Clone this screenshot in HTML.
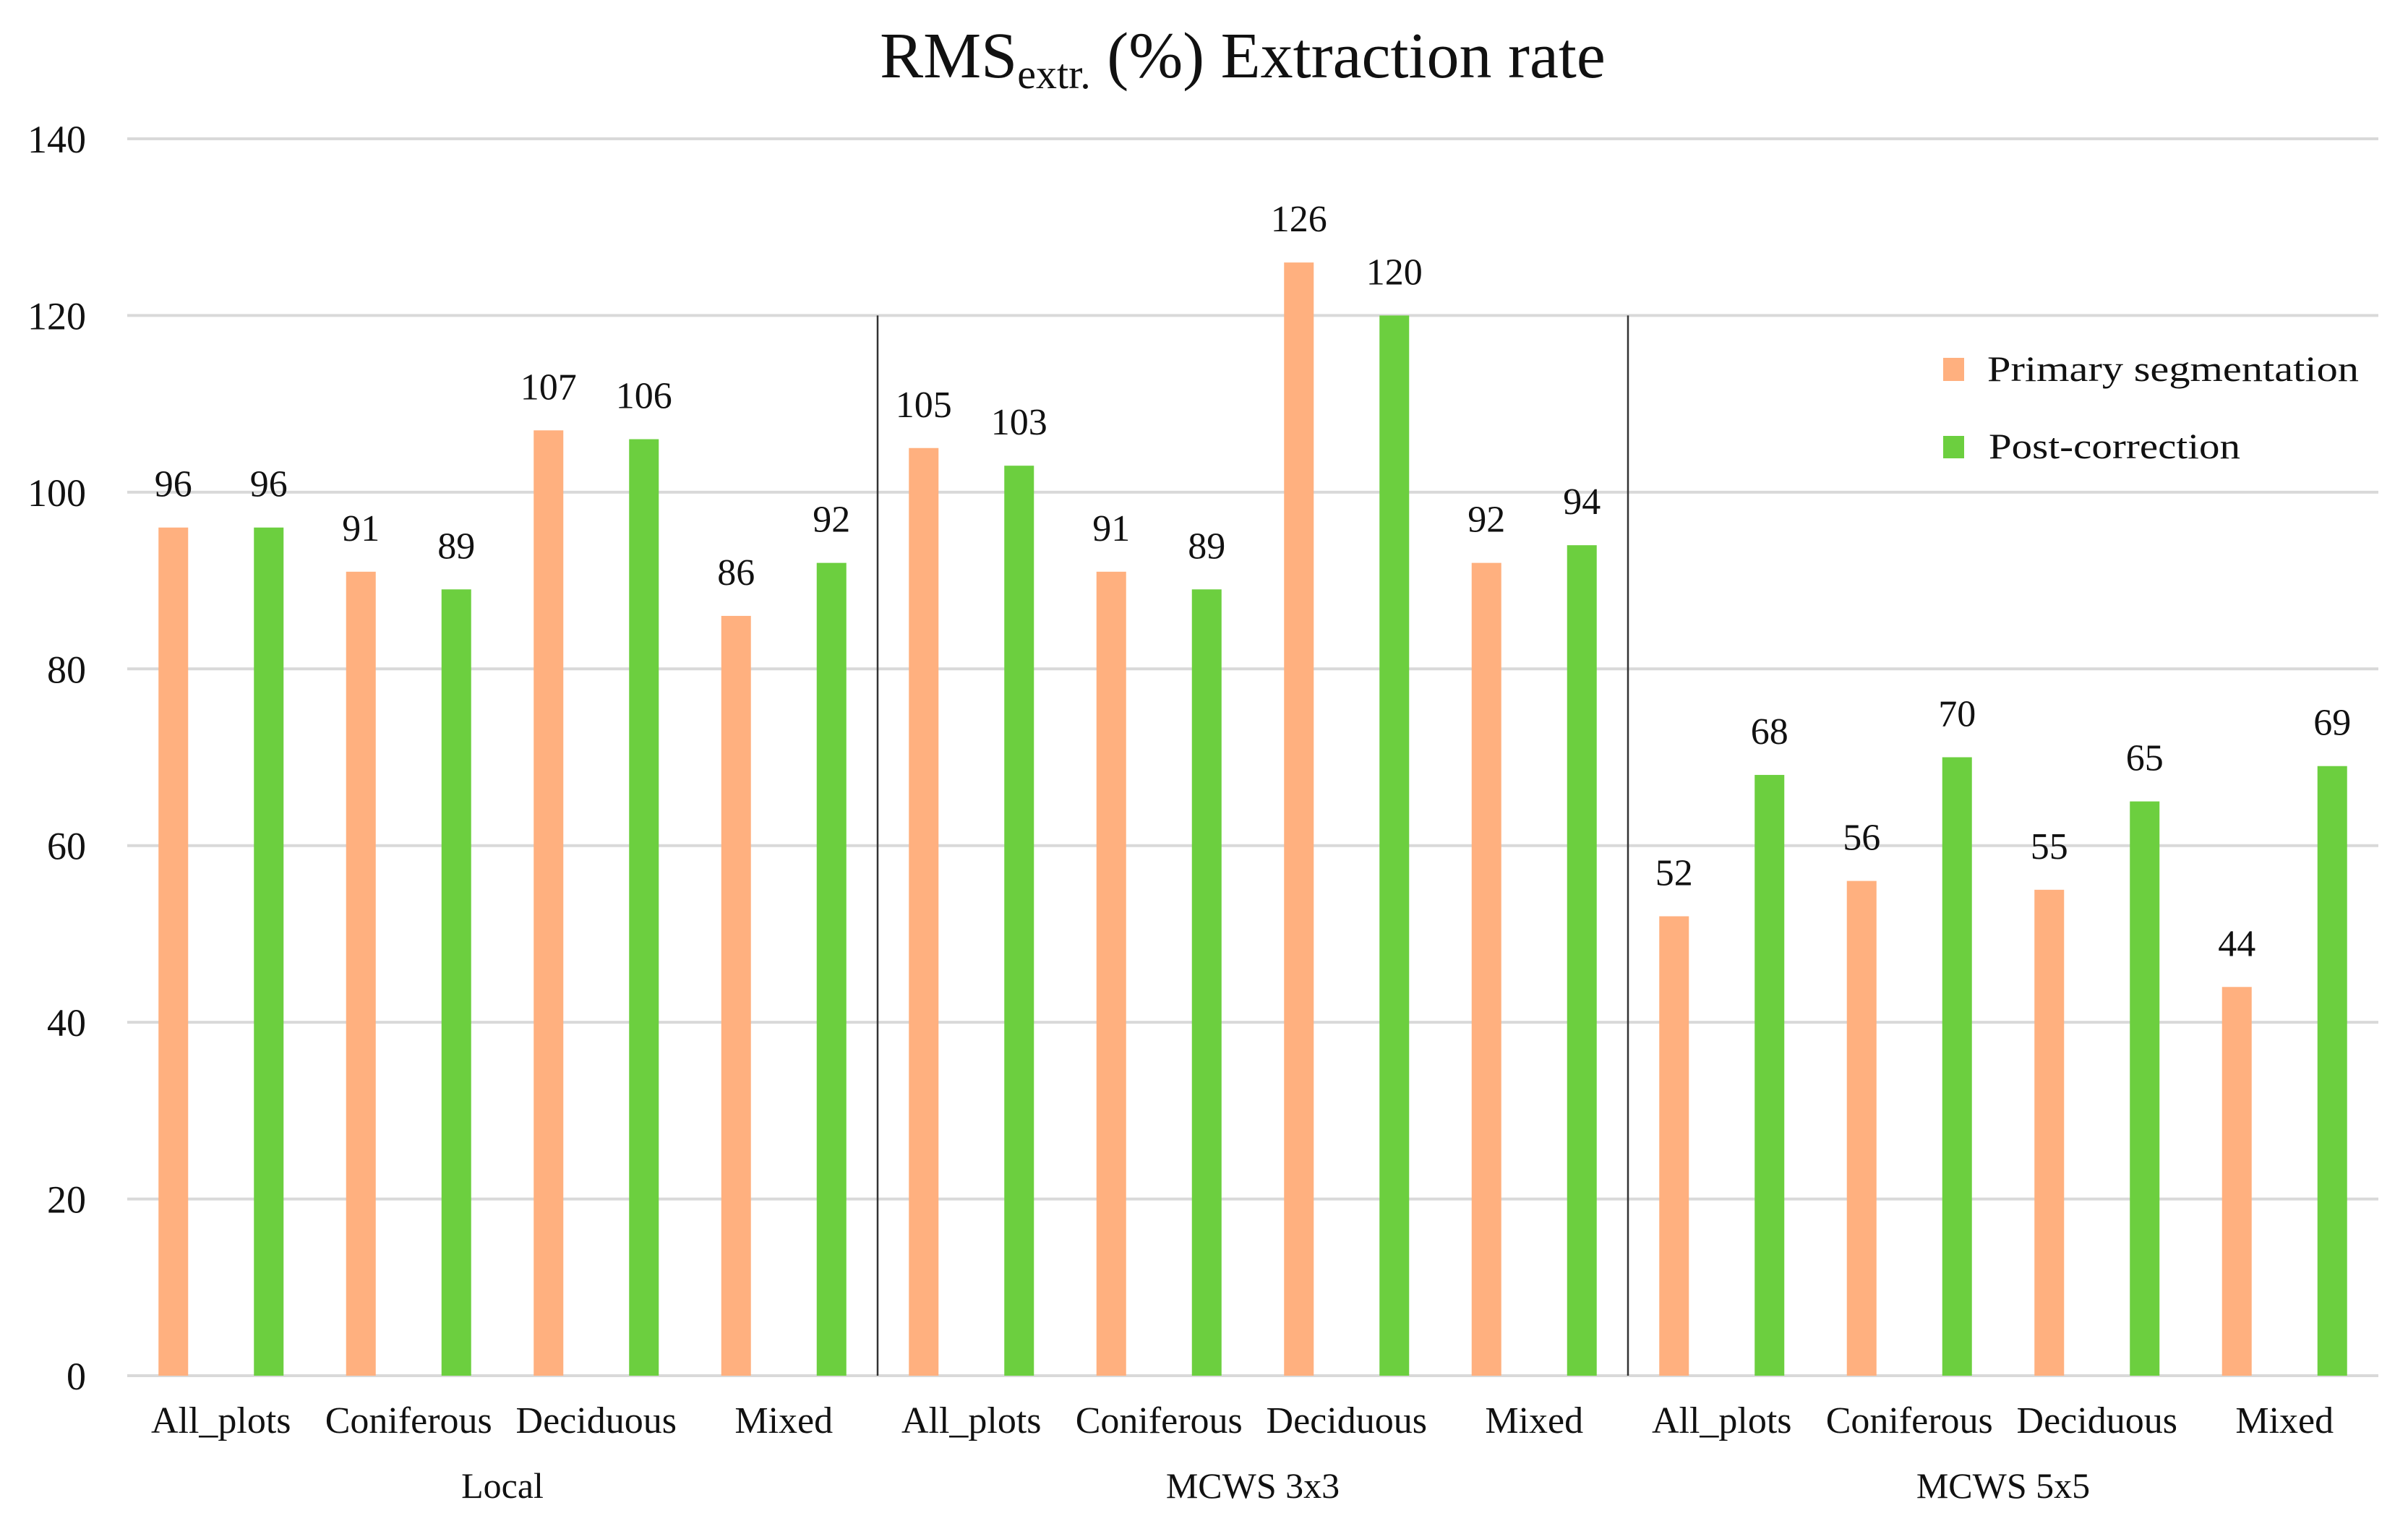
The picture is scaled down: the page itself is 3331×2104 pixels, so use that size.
<!DOCTYPE html>
<html><head><meta charset="utf-8"><style>
html,body{margin:0;padding:0;background:#fff;}
svg{display:block;font-family:"Liberation Serif",serif;}
</style></head><body>
<svg id="chart" width="3331" height="2104" viewBox="0 0 3331 2104" xmlns="http://www.w3.org/2000/svg">
<text x="1719" y="107" text-anchor="middle" font-size="90" fill="#111">RMS<tspan font-size="58" dy="15">extr.</tspan><tspan dy="-15"> (%) Extraction rate</tspan></text>
<g id="grid"></g><g id="bars"></g><g id="labels"></g>
<g>
<rect x="2688" y="495" width="29" height="32" fill="#FFB07F"/>
<text x="2749" y="527" font-size="50" fill="#111" textLength="514" lengthAdjust="spacingAndGlyphs">Primary segmentation</text>
<rect x="2688" y="603" width="29" height="31" fill="#6CCF3F"/>
<text x="2751" y="634" font-size="50" fill="#111" textLength="348" lengthAdjust="spacingAndGlyphs">Post-correction</text>
</g>
</svg>
<script>
const categories=["All_plots","Coniferous","Deciduous","Mixed","All_plots","Coniferous","Deciduous","Mixed","All_plots","Coniferous","Deciduous","Mixed"];
const groups=["Local","MCWS 3x3","MCWS 5x5"];
const primary=[96,91,107,86,105,91,126,92,52,56,55,44];
const post=[96,89,106,92,103,89,120,94,68,70,65,69];
const ticks=[0,20,40,60,80,100,120,140];
const NS="http://www.w3.org/2000/svg";
const L=176,R=3290,Y0=1903,Y140=192;
const step=(R-L)/categories.length;
const y=v=>Y0-(Y0-Y140)*v/140;
const x=i=>L+step*(i+0.5);
function mk(tag,attrs,parent,txt){const e=document.createElementNS(NS,tag);for(const k in attrs)e.setAttribute(k,attrs[k]);if(txt!==undefined)e.textContent=txt;parent.appendChild(e);return e;}
const grid=document.getElementById('grid'),bars=document.getElementById('bars'),labels=document.getElementById('labels');
ticks.forEach(t=>{
  const g=mk('line',{x1:L,x2:R,y1:y(t),y2:y(t),stroke:'#d9d9d9','stroke-width':4},grid);
  
  
  const tl=mk('text',{x:119,y:y(t)+19,'text-anchor':'end','font-size':54,fill:'#111'},labels,String(t));
  
  
});
[1,2].forEach(k=>{
  const s=mk('line',{x1:L+step*4*k,x2:L+step*4*k,y1:y(120),y2:Y0,stroke:'#333','stroke-width':2.5},grid);
  
  
});
const bw=41,off=66;
categories.forEach((c,i)=>{
  [[primary,-off,'#FFB07F','primary'],[post,off,'#6CCF3F','post']].forEach(([arr,o,col,nm])=>{
    const cx=x(i)+o,v=arr[i];
    const b=mk('rect',{x:cx-bw/2,y:y(v),width:bw,height:Y0-y(v),fill:col},bars);
    
    
    const t=mk('text',{x:cx,y:y(v)-43,'text-anchor':'middle','font-size':52,fill:'#111'},labels,String(v));
    
    
  });
  const cl=mk('text',{x:x(i),y:1982,'text-anchor':'middle','font-size':52,fill:'#111'},labels,c);
  
  
});
groups.forEach((g,k)=>{
  const t=mk('text',{x:L+step*(4*k+2),y:2072,'text-anchor':'middle','font-size':50,fill:'#111'},labels,g);
  
  
});
</script>
</body></html>
